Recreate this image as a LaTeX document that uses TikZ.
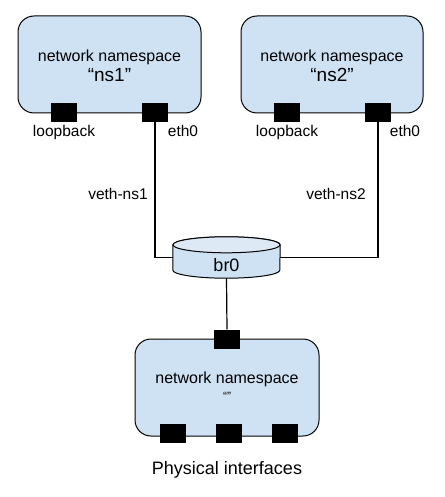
\documentclass[tikz,border=0pt]{standalone}
\usepackage{fontspec}
\setmainfont{Liberation Sans}
\definecolor{boxfill}{HTML}{CFE2F3}
\definecolor{topfill}{HTML}{DDE9F5}
\begin{document}
\begin{tikzpicture}[x=1pt,y=-1pt,
  nsbox/.style={draw=black, line width=1pt, fill=boxfill, rounded corners=16pt, minimum width=#1, minimum height=97pt, inner sep=0pt},
  port/.style={fill=black, draw=none, minimum width=26pt, minimum height=19pt, inner sep=0pt},
  lbl/.style={font=\fontsize{15.5}{18}\selectfont, anchor=base, inner sep=0pt},
  ttl/.style={font=\fontsize{16}{19}\selectfont, anchor=base, inner sep=0pt},
  conn/.style={draw=black, line width=1.2pt}]
\useasboundingbox (0,0) rectangle (444,497);

% top-left namespace
\node[nsbox=183pt] (ns1) at (109.5,64.5) {};
\node[ttl] (ns1t) at (109.5,62) {network namespace};
\node[ttl, font=\fontsize{19}{22}\selectfont] (ns1n) at (109.5,82) {“ns1”};
\node[port] (lo1) at (64,112.5) {};
\node[port] (eth1) at (155,112.5) {};
\node[lbl] (lo1l) at (64,137) {loopback};
\node[lbl] (eth1l) at (183,137) {eth0};

% top-right namespace
\node[nsbox=182pt] (ns2) at (332,64.5) {};
\node[ttl] (ns2t) at (332,62) {network namespace};
\node[ttl, font=\fontsize{19}{22}\selectfont] (ns2n) at (332,82) {“ns2”};
\node[port] (lo2) at (287,112.5) {};
\node[port] (eth2) at (378,112.5) {};
\node[lbl] (lo2l) at (287,137) {loopback};
\node[lbl] (eth2l) at (405,137) {eth0};

% veth labels
\node[lbl] (v1) at (118,199) {veth-ns1};
\node[lbl] (v2) at (336,199) {veth-ns2};

% bridge cylinder
\node[minimum width=107pt, minimum height=25pt, inner sep=0pt] (br0) at (226.5,257.5) {};
\path[draw=black, line width=1pt, fill=boxfill] (br0.north west) -- (br0.south west)
  arc[start angle=180, end angle=360, x radius=53.5pt, y radius=8pt]
  -- (br0.north east)
  arc[start angle=0, end angle=180, x radius=53.5pt, y radius=8pt] -- cycle;
\draw[line width=1pt, fill=topfill] (br0.north) ellipse [x radius=53.5pt, y radius=8pt];
\node[anchor=base, inner sep=0pt, font=\fontsize{18}{21}\selectfont] (br0t) at (226.5,271) {br0};

% bottom namespace
\node[nsbox=184pt] (ns0) at (227,387.5) {};
\node[ttl] (ns0t) at (227,383) {network namespace};
\node[ttl, font=\fontsize{12}{14}\selectfont] (ns0n) at (227,400) {“”};
\node[port] (p0) at (227,339) {};
\node[port] (ph1) at (173,433) {};
\node[port] (ph2) at (229,433) {};
\node[port] (ph3) at (285,433) {};
\node[anchor=base, inner sep=0pt, font=\fontsize{18}{21}\selectfont] (phys) at (227,474) {Physical interfaces};

% connectors
\draw[conn] (eth1.south) |- (br0.west);
\draw[conn] (eth2.south) |- (br0.east);
\draw[conn] ([yshift=-8pt]br0.south) -- (p0.north);
\end{tikzpicture}
\end{document}
